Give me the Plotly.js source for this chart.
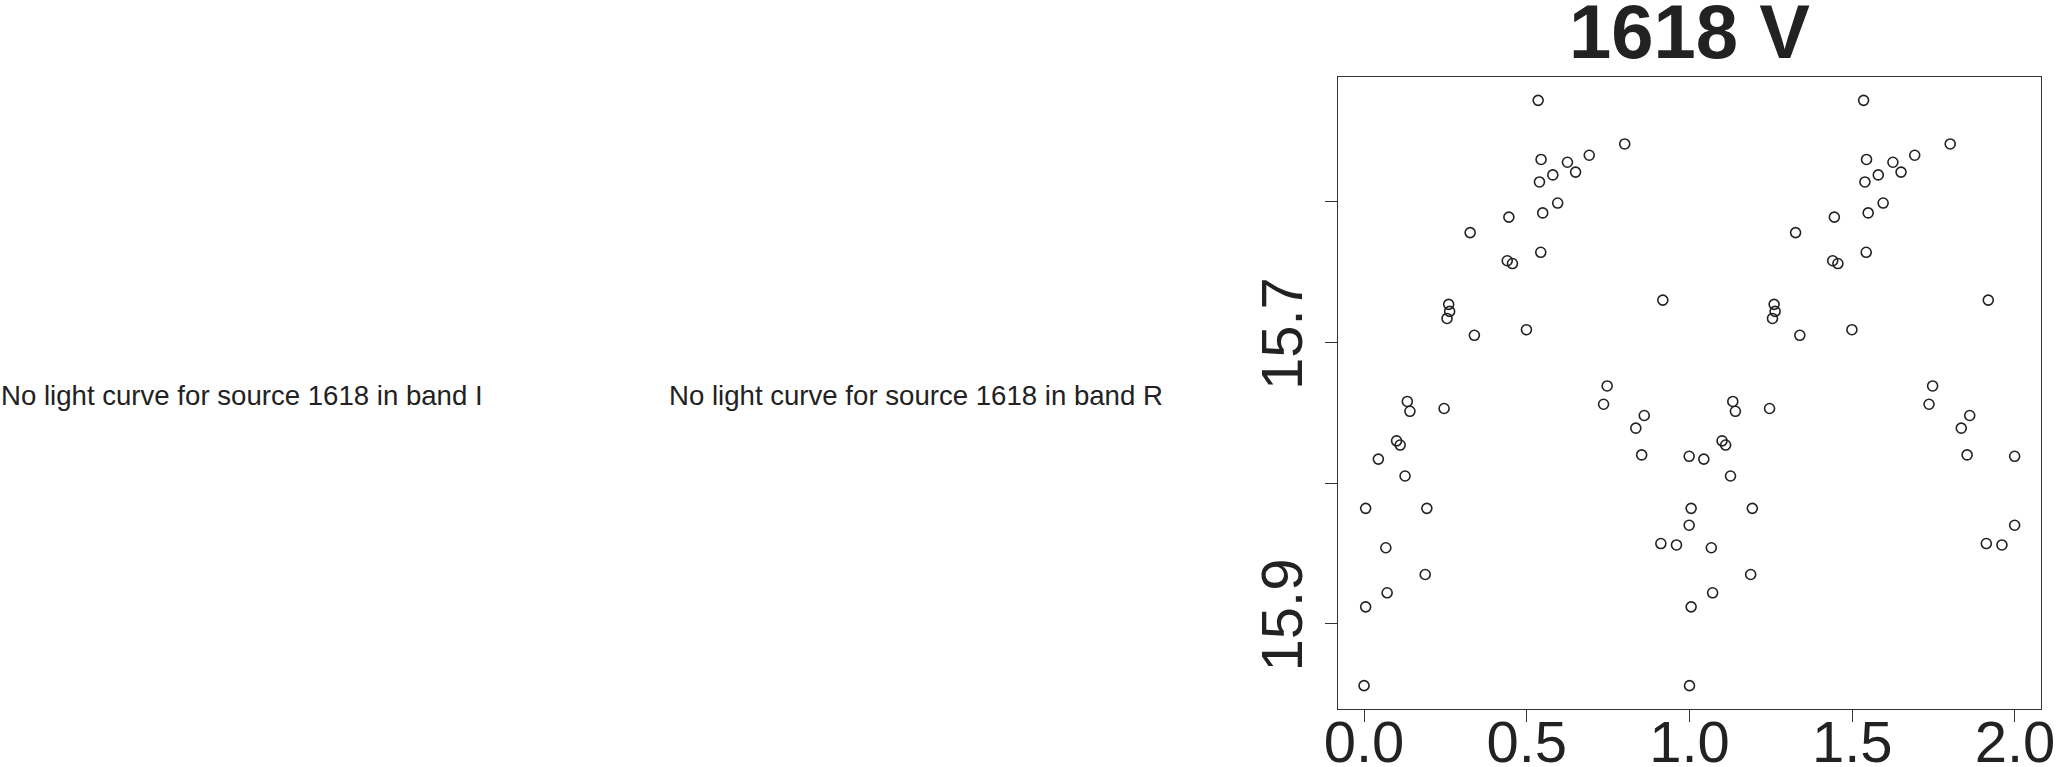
<!DOCTYPE html>
<html>
<head>
<meta charset="utf-8">
<script src="https://cdn.plot.ly/plotly-3.0.1.min.js"></script>
<style>html,body{margin:0;padding:0;background:#fff;}#chart{width:2056px;height:767px;}</style>
</head>
<body>
<div id="chart"></div>
<script>
// Phase-folded light curve of source 1618, band V (each observation drawn at phase and phase+1)
const phase = [0.535,0.801,0.692,0.544,0.625,0.650,0.580,0.539,0.595,0.549,0.445,0.326,0.543,0.440,0.456,
  0.918,0.260,0.263,0.255,0.499,0.339,0.747,0.133,0.736,0.141,0.246,0.861,0.835,0.100,0.111,0.044,0.853,
  0.999,0.126,0.005,0.193,0.999,0.067,0.912,0.960,0.188,0.071,0.005,0.000];
const mag = [15.528,15.559,15.567,15.570,15.572,15.579,15.581,15.586,15.601,15.608,15.611,15.622,15.636,15.642,15.644,
  15.670,15.673,15.678,15.683,15.691,15.695,15.731,15.742,15.744,15.749,15.747,15.752,15.761,15.770,15.773,15.783,15.780,
  15.781,15.795,15.818,15.818,15.830,15.846,15.843,15.844,15.865,15.878,15.888,15.944];
const xTickVals = [0.0,0.5,1.0,1.5,2.0];
const xTickText = ["0.0","0.5","1.0","1.5","2.0"];
const yTickVals = [15.6,15.7,15.8,15.9];
const yTickText = ["","15.7","","15.9"];
const titleText = "1618 V";
const missingBands = ["I","R"];
const sourceId = "1618";

const xs = phase.concat(phase.map(p => p + 1));
const ys = mag.concat(mag);

const FONT = "Liberation Sans, Arial, Helvetica, sans-serif";
const INK = "#222222";

const trace = {
  x: xs, y: ys, type: "scatter", mode: "markers",
  marker: {symbol: "circle-open", size: 10, color: INK, line: {color: INK, width: 1.6}},
  hoverinfo: "x+y", showlegend: false
};

const L = 1338, R = 2041, T = 77, B = 709, W = 2056, H = 767;
const toPaperX = px => (px - L) / (R - L);
const toPaperY = py => (B - py) / (B - T);

const annotations = [
  {text: "No light curve for source " + sourceId + " in band " + missingBands[0], px: 0},
  {text: "No light curve for source " + sourceId + " in band " + missingBands[1], px: 668}
].map(a => ({
  text: a.text, xref: "paper", yref: "paper", x: toPaperX(a.px), y: toPaperY(395),
  xanchor: "left", yanchor: "middle", showarrow: false, borderpad: 0,
  font: {family: FONT, size: 27.6, color: INK}
}));

const layout = {
  width: W, height: H,
  margin: {l: L, r: W - R, t: T, b: H - B, pad: 0},
  paper_bgcolor: "#ffffff", plot_bgcolor: "#ffffff",
  title: {text: titleText, x: 0.5, xref: "paper", xanchor: "center",
          y: 1 - 31 / H, yref: "container", yanchor: "middle",
          font: {family: FONT, size: 76, color: INK, weight: "bold"}},
  xaxis: {range: [-0.08, 2.08], tickvals: xTickVals, ticktext: xTickText,
          ticks: "outside", ticklen: 12, tickwidth: 1, tickcolor: "#333",
          ticklabelstandoff: -30,
          showline: true, mirror: true, linecolor: "#333", linewidth: 1.2,
          showgrid: false, zeroline: false, automargin: false,
          tickfont: {family: FONT, size: 58, color: INK}},
  yaxis: {range: [15.9606, 15.5114], tickvals: yTickVals, ticktext: yTickText,
          ticks: "outside", ticklen: 12, tickwidth: 1, tickcolor: "#333", tickangle: -90,
          showline: true, mirror: true, linecolor: "#333", linewidth: 1.2,
          showgrid: false, zeroline: false, automargin: false,
          tickfont: {family: FONT, size: 58, color: INK}},
  annotations: annotations,
  font: {family: FONT, color: INK}
};

Plotly.newPlot("chart", [trace], layout, {displayModeBar: false, staticPlot: false});
</script>
</body>
</html>
